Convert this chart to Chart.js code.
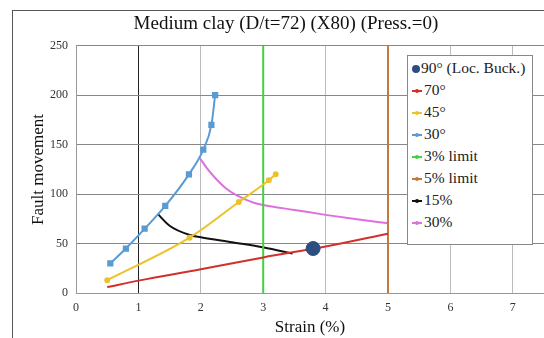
<!DOCTYPE html>
<html>
<head>
<meta charset="utf-8">
<script src="https://cdn.jsdelivr.net/npm/chart.js@4"></script>
<style>
  body { margin: 0; background: #fff; overflow: hidden; }
  #wrap { position: relative; width: 544px; height: 338px; }
  #frame { position: absolute; left: 12px; top: 10px; width: 600px; height: 400px;
           border-left: 1px solid #555; border-top: 1px solid #555; }
  #legend { position: absolute; left: 407px; top: 55px; width: 126px; height: 190px;
            border: 1px solid #888; background: #fff; box-sizing: border-box;
            font-family: 'Liberation Serif', serif; font-size: 15.5px; color: #222; padding-top: 1px; }
  #legend div { height: 22px; line-height: 22px; padding-left: 4px; white-space: nowrap; }
  #legend i { display: inline-block; position: relative; width: 10px; height: 2px; margin-right: 2px;
              vertical-align: middle; }
  #legend i b { position: absolute; left: 3px; top: -1.5px; width: 4px; height: 4px; border-radius: 2px; }
  #legend i.dot { width: 8px; height: 8px; border-radius: 4px; margin-right: 1px; }
  canvas { position: absolute; left: 0; top: 0; }
</style>
</head>
<body>
<div id="wrap">
  <div id="frame"></div>
  <canvas id="chartCanvas" width="544" height="338"></canvas>
  <div id="legend"></div>
</div>
<script>
// values
const buckStrain = [3.8];
const buckFault = [45];

const strain70 = [0.5, 1, 2, 3, 4, 5];
const fault70 = [6, 12.5, 24, 36, 47, 60];

const strain45 = [0.5, 1.82, 2.61, 3.09, 3.2];
const fault45 = [13, 56, 92, 114, 120];

const strain30 = [0.55, 0.8, 1.1, 1.43, 1.81, 2.04, 2.17, 2.23];
const fault30 = [30, 45, 65, 88, 120, 145, 170, 200];

const limit3 = [3, 3];
const limit5 = [5, 5];
const limitFault = [0, 250];

const strainP15 = [1.31, 1.5, 1.82, 2.0, 2.5, 3.01, 3.47];
const faultP15 = [80, 68, 58.7, 56.4, 51.3, 46, 40];

const strainP30 = [1.99, 2.1, 2.25, 2.4, 2.57, 2.86, 3.0, 3.5, 4.0, 4.5, 5.0];
const faultP30 = [136, 126, 115, 106, 99, 91, 89, 84, 79, 74.6, 70.5];

const xTicks = [0, 1, 2, 3, 4, 5, 6, 7];
const yTicks = [0, 50, 100, 150, 200, 250];

const zip = (xs, ys) => xs.map((x, i) => ({ x: x, y: ys[i] }));

const series = [
  { label: '90° (Loc. Buck.)', data: zip(buckStrain, buckFault), color: '#2d4e80', dot: true },
  { label: '70°', data: zip(strain70, fault70), color: '#d2302c' },
  { label: '45°', data: zip(strain45, fault45), color: '#ecc22a', marker: 2 },
  { label: '30°', data: zip(strain30, fault30), color: '#5a9bd3', marker: 3, square: true },
  { label: '3% limit', data: zip(limit3, limitFault), color: '#44d044' },
  { label: '5% limit', data: zip(limit5, limitFault), color: '#c47a3c' },
  { label: '15%', data: zip(strainP15, faultP15), color: '#111111' },
  { label: '30%', data: zip(strainP30, faultP30), color: '#de70de' }
];

const datasets = series.map(s => {
  if (s.dot) {
    return {
      label: s.label, data: s.data, showLine: false, order: 0,
      pointRadius: 7, pointBackgroundColor: s.color, pointBorderColor: s.color
    };
  }
  return {
    label: s.label, data: s.data, showLine: true,
    order: s.label === '30°' ? 1 : 2,
    borderColor: s.color, backgroundColor: s.color, borderWidth: 2,
    cubicInterpolationMode: 'monotone',
    pointRadius: s.marker || 0, pointStyle: s.square ? 'rect' : 'circle',
    pointBackgroundColor: s.color, pointBorderColor: s.color
  };
});

// legend as html
const legend = document.getElementById('legend');
series.forEach(s => {
  const row = document.createElement('div');
  const mark = document.createElement('i');
  if (s.dot) {
    mark.className = 'dot';
  } else {
    const b = document.createElement('b');
    b.style.background = s.color;
    mark.appendChild(b);
  }
  mark.style.background = s.color;
  row.appendChild(mark);
  row.appendChild(document.createTextNode(s.label));
  legend.appendChild(row);
});

const serif = 'Liberation Serif';

new Chart(document.getElementById('chartCanvas').getContext('2d'), {
  type: 'scatter',
  data: { datasets: datasets },
  options: {
    responsive: false,
    animation: false,
    devicePixelRatio: 1,
    layout: { autoPadding: false, padding: { left: 28, right: 0, top: 10, bottom: 0 } },
    plugins: {
      legend: { display: false },
      tooltip: { enabled: false },
      title: {
        display: true,
        text: 'Medium clay (D/t=72) (X80) (Press.=0)',
        color: '#111',
        font: { family: serif, size: 19, weight: 'normal' },
        padding: { top: 3, bottom: 10 }
      }
    },
    scales: {
      x: {
        type: 'linear', min: 0, max: 7.5,
        afterFit: scale => { scale.height = 45; scale.paddingRight = 0; scale.paddingLeft = 0; },
        afterBuildTicks: scale => { scale.ticks = xTicks.map(v => ({ value: v })); },
        ticks: { padding: 8, color: '#333', font: { family: serif, size: 12 } },
        grid: {
          drawTicks: false,
          color: ctx => (ctx.tick && ctx.tick.value === 1) ? '#222' : '#bbb'
        },
        border: { color: '#999' },
        title: {
          display: true, text: 'Strain (%)', color: '#111',
          font: { family: serif, size: 17 }, padding: { top: 0, bottom: 0 }
        }
      },
      y: {
        type: 'linear', min: 0, max: 250,
        afterFit: scale => { scale.width = 48; scale.paddingTop = 0; scale.paddingBottom = 0; },
        afterBuildTicks: scale => { scale.ticks = yTicks.map(v => ({ value: v })); },
        ticks: { padding: 8, color: '#333', font: { family: serif, size: 12 } },
        grid: { drawTicks: false, color: '#888' },
        border: { color: '#999' },
        title: {
          display: true, text: 'Fault movement', color: '#111',
          font: { family: serif, size: 17 }, padding: { top: 0, bottom: 0 }
        }
      }
    }
  }
});
</script>
</body>
</html>
